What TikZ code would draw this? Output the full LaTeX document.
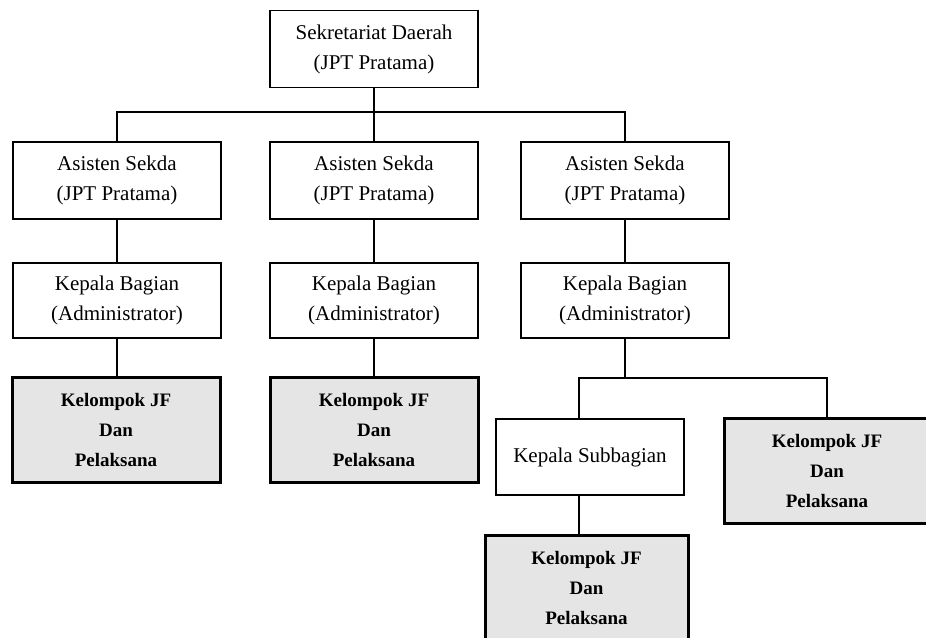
\documentclass[tikz,border=0pt]{standalone}
\usepackage{fontspec}
\setmainfont{Liberation Serif}
\begin{document}
\begin{tikzpicture}[x=1pt,y=-1pt,
  box/.style={draw, line width=1.5pt, minimum width=208pt, minimum height=77pt,
    align=center, inner sep=0pt, font=\fontsize{21}{30}\selectfont},
  jf/.style={box, line width=3pt, fill=black!10, minimum height=105pt,
    font=\bfseries\fontsize{19}{30}\selectfont},
  conn/.style={line width=1.6pt}]
\useasboundingbox (0,0) rectangle (926,637);
\node[box] (sek) at (374,49) {Sekretariat Daerah\\(JPT Pratama)};
\node[box] (as1) at (117,180.5) {Asisten Sekda\\(JPT Pratama)};
\node[box] (as2) at (374,180.5) {Asisten Sekda\\(JPT Pratama)};
\node[box] (as3) at (625,180.5) {Asisten Sekda\\(JPT Pratama)};
\node[box, minimum height=75pt] (kb1) at (117,300.5) {Kepala Bagian\\(Administrator)};
\node[box, minimum height=75pt] (kb2) at (374,300.5) {Kepala Bagian\\(Administrator)};
\node[box, minimum height=75pt] (kb3) at (625,300.5) {Kepala Bagian\\(Administrator)};
\node[jf] (jf1) at (116,429.5) {Kelompok JF\\Dan\\Pelaksana};
\node[jf] (jf2) at (374,429.5) {Kelompok JF\\Dan\\Pelaksana};
\node[box, minimum width=188pt, minimum height=76pt] (ksub) at (590,457) {Kepala Subbagian};
\node[jf, minimum width=206pt] (jf4) at (827,470.5) {Kelompok JF\\Dan\\Pelaksana};
\node[jf, minimum width=203pt] (jf3) at (586.5,588) {Kelompok JF\\Dan\\Pelaksana};
\coordinate (bus1) at (374,112);
\coordinate (bus2) at (625,378);
\draw[conn] (sek.south) -- (bus1);
\draw[conn] (as1.north) |- (bus1) -| (as3.north);
\draw[conn] (bus1) -- (as2.north);
\draw[conn] (as1.south) -- (kb1.north);
\draw[conn] (as2.south) -- (kb2.north);
\draw[conn] (as3.south) -- (kb3.north);
\draw[conn] (kb1.south) -- (kb1.south |- jf1.north);
\draw[conn] (kb2.south) -- (kb2.south |- jf2.north);
\draw[conn] (kb3.south) -- (bus2);
\draw[conn] ([xshift=-11pt]ksub.north) |- (bus2) -| (jf4.north);
\draw[conn] ([xshift=-11pt]ksub.south) -- ([xshift=-11pt]ksub.south |- jf3.north);
\end{tikzpicture}
\end{document}
